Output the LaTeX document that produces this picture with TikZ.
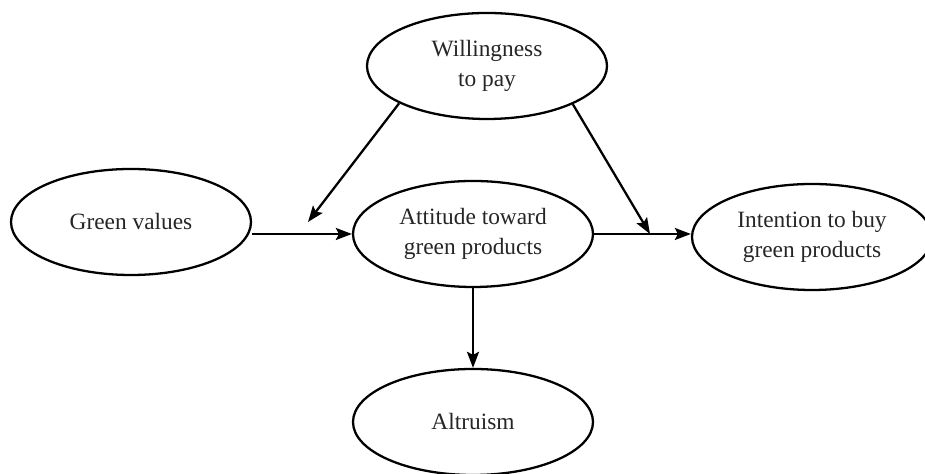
\documentclass[tikz,border=0pt]{standalone}
\usepackage{fontspec}
\setmainfont{Liberation Serif}
\usepackage{xcolor}
\usetikzlibrary{shapes.geometric, arrows.meta}

\tikzset{
	oval/.style={draw=black, ellipse, line width=1.3pt, minimum width=4.8cm, minimum height=2.12cm, inner sep=0pt, align=center, font=\fontsize{13.3}{17}\selectfont, text=black!85},
	link/.style={line width=1.3pt, -{Stealth[length=0.32cm, width=0.24cm, inset=0.06cm]}}
}

\begin{document}
\begin{tikzpicture}
				\useasboundingbox (0,0) rectangle (18.5,9.48);

				\node[oval] (wtp) at (9.74,8.16) {Willingness\\to pay};
				\node[oval] (gv) at (2.62,5.04) {Green values};
				\node[oval] (att) at (9.46,4.80) {Attitude toward\\green products};
				\node[oval] (itb) at (16.24,4.74) {Intention to buy\\green products};
				\node[oval] (alt) at (9.46,1.04) {Altruism};

				\coordinate (tipl) at (6.16,5.04);
				\coordinate (tipr) at (13.0,4.80);

				\draw[link] (gv.east |- att.west) -- (att.west);
				\draw[link] (att.east) -- (itb.west |- att.east);
				\draw[link] (att.south) -- (alt.north);

				\draw[link] (wtp.203) -- (tipl);
				\draw[link] (wtp.336) -- (tipr);
			\end{tikzpicture}
\end{document}
